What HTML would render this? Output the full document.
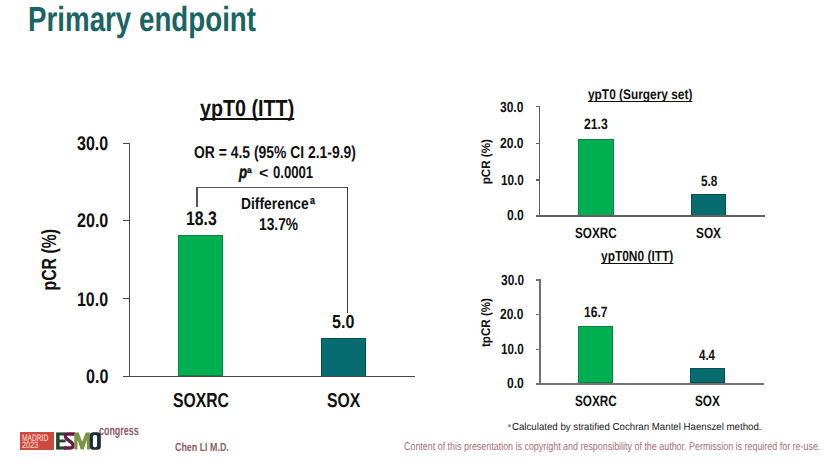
<!DOCTYPE html>
<html><head><meta charset="utf-8"><style>
html,body{margin:0;padding:0;background:#fff;}
body{width:832px;height:468px;position:relative;overflow:hidden;font-family:"Liberation Sans",sans-serif;text-rendering:geometricPrecision;}
.t{position:absolute;white-space:nowrap;line-height:1;transform-origin:0 0;}
</style></head><body>
<div class="t" style="left:27.73px;top:2.709px;font-size:34.91px;transform:scaleX(0.7944);color:#1a6464;font-weight:bold;font-style:normal;">Primary endpoint</div>
<div style="position:absolute;left:178.20px;top:234.70px;width:44.80px;height:141.80px;background:#00b050;box-shadow:inset 0 0 0 1px rgba(30,90,60,0.55)"></div>
<div style="position:absolute;left:320.80px;top:338.00px;width:45.00px;height:38.50px;background:#066c70;box-shadow:inset 0 0 0 1px rgba(10,50,50,0.45)"></div>
<div style="position:absolute;left:128.80px;top:142.70px;width:1.50px;height:234.80px;background:#474747;"></div>
<div style="position:absolute;left:123.10px;top:376.10px;width:291.50px;height:1.40px;background:#474747;"></div>
<div style="position:absolute;left:123.10px;top:142.70px;width:6.90px;height:1.40px;background:#474747;"></div>
<div style="position:absolute;left:123.10px;top:219.60px;width:6.90px;height:1.40px;background:#474747;"></div>
<div style="position:absolute;left:123.10px;top:297.90px;width:6.90px;height:1.40px;background:#474747;"></div>
<div style="position:absolute;left:196.20px;top:186.60px;width:151.80px;height:1.50px;background:#555;"></div>
<div style="position:absolute;left:196.20px;top:186.60px;width:1.60px;height:20.40px;background:#555;"></div>
<div style="position:absolute;left:346.60px;top:186.60px;width:1.40px;height:126.90px;background:#3a3a3a;"></div>
<div class="t" style="left:77.14px;top:135.103px;font-size:19.79px;transform:scaleX(0.8080);color:#111;font-weight:bold;font-style:normal;">30.0</div>
<div class="t" style="left:76.94px;top:212.103px;font-size:19.79px;transform:scaleX(0.8134);color:#111;font-weight:bold;font-style:normal;">20.0</div>
<div class="t" style="left:77.20px;top:290.603px;font-size:19.79px;transform:scaleX(0.8064);color:#111;font-weight:bold;font-style:normal;">10.0</div>
<div class="t" style="left:85.86px;top:368.103px;font-size:19.79px;transform:scaleX(0.8140);color:#111;font-weight:bold;font-style:normal;">0.0</div>
<div class="t" style="left:0;top:0;font-size:20.49px;transform-origin:0 0;transform:translate(39.900px,290.43px) rotate(-90deg) scaleX(0.7709);color:#111;font-weight:bold">pCR (%)</div>
<div class="t" style="left:200.05px;top:97.112px;font-size:23.13px;transform:scaleX(0.8529);color:#111;font-weight:bold;font-style:normal;text-decoration:underline;text-decoration-skip-ink:none;text-decoration-thickness:1.5px;text-underline-offset:2.4px">ypT0 (ITT)</div>
<div class="t" style="left:193.84px;top:143.806px;font-size:17.16px;transform:scaleX(0.8103);color:#111;font-weight:bold;font-style:normal;">OR = 4.5 (95% CI 2.1-9.9)</div>
<div class="t" style="left:239.40px;top:163.903px;font-size:17.44px;transform:scaleX(0.7613);color:#111;font-weight:bold;font-style:italic;-webkit-text-stroke:0.5px #111">p</div>
<div class="t" style="left:247.35px;top:165.725px;font-size:8.95px;transform:scaleX(0.9442);color:#111;font-weight:bold;font-style:normal;-webkit-text-stroke:0.3px #111">a</div>
<div class="t" style="left:259.32px;top:165.824px;font-size:15.19px;transform:scaleX(1.0537);color:#111;font-weight:bold;font-style:normal;"><</div>
<div class="t" style="left:272.67px;top:163.943px;font-size:17.10px;transform:scaleX(0.7685);color:#111;font-weight:bold;font-style:normal;">0.0001</div>
<div class="t" style="left:241.46px;top:195.500px;font-size:16.15px;transform:scaleX(0.8586);color:#111;font-weight:bold;font-style:normal;">Difference</div>
<div class="t" style="left:309.84px;top:195.997px;font-size:11.14px;transform:scaleX(0.7922);color:#111;font-weight:bold;font-style:normal;-webkit-text-stroke:0.3px #111">a</div>
<div class="t" style="left:258.54px;top:215.730px;font-size:17.24px;transform:scaleX(0.8000);color:#111;font-weight:bold;font-style:normal;">13.7%</div>
<div class="t" style="left:185.52px;top:210.204px;font-size:19.65px;transform:scaleX(0.8017);color:#111;font-weight:bold;font-style:normal;">18.3</div>
<div class="t" style="left:332.42px;top:314.419px;font-size:18.94px;transform:scaleX(0.8480);color:#111;font-weight:bold;font-style:normal;">5.0</div>
<div class="t" style="left:172.73px;top:391.106px;font-size:20.21px;transform:scaleX(0.7789);color:#111;font-weight:bold;font-style:normal;">SOXRC</div>
<div class="t" style="left:326.63px;top:390.804px;font-size:20.07px;transform:scaleX(0.7885);color:#111;font-weight:bold;font-style:normal;">SOX</div>
<div style="position:absolute;left:578.10px;top:138.60px;width:35.70px;height:77.20px;background:#00b050;box-shadow:inset 0 0 0 1px rgba(30,90,60,0.55)"></div>
<div style="position:absolute;left:691.00px;top:194.30px;width:35.40px;height:21.50px;background:#066c70;box-shadow:inset 0 0 0 1px rgba(10,50,50,0.45)"></div>
<div style="position:absolute;left:538.80px;top:106.00px;width:1.50px;height:110.50px;background:#606060;"></div>
<div style="position:absolute;left:535.60px;top:215.10px;width:229.40px;height:1.50px;background:#606060;"></div>
<div style="position:absolute;left:535.60px;top:106.00px;width:3.90px;height:1.40px;background:#606060;"></div>
<div style="position:absolute;left:535.60px;top:142.50px;width:3.90px;height:1.40px;background:#606060;"></div>
<div style="position:absolute;left:535.60px;top:179.30px;width:3.90px;height:1.40px;background:#606060;"></div>
<div class="t" style="left:500.43px;top:100.565px;font-size:14.70px;transform:scaleX(0.8167);color:#111;font-weight:bold;font-style:normal;">30.0</div>
<div class="t" style="left:500.28px;top:137.065px;font-size:14.70px;transform:scaleX(0.8222);color:#111;font-weight:bold;font-style:normal;">20.0</div>
<div class="t" style="left:500.86px;top:173.856px;font-size:14.70px;transform:scaleX(0.8012);color:#111;font-weight:bold;font-style:normal;">10.0</div>
<div class="t" style="left:506.91px;top:209.065px;font-size:14.70px;transform:scaleX(0.8257);color:#111;font-weight:bold;font-style:normal;">0.0</div>
<div class="t" style="left:0;top:0;font-size:12.21px;transform-origin:0 0;transform:translate(479.800px,184.36px) rotate(-90deg) scaleX(0.9553);color:#111;font-weight:bold">pCR (%)</div>
<div class="t" style="left:588.11px;top:86.862px;font-size:14.04px;transform:scaleX(0.8470);color:#111;font-weight:bold;font-style:normal;text-decoration:underline;text-decoration-skip-ink:none;text-decoration-thickness:1px;text-underline-offset:1.6px">ypT0 (Surgery set)</div>
<div class="t" style="left:583.87px;top:116.654px;font-size:14.98px;transform:scaleX(0.8152);color:#111;font-weight:bold;font-style:normal;">21.3</div>
<div class="t" style="left:700.75px;top:174.658px;font-size:14.84px;transform:scaleX(0.7954);color:#111;font-weight:bold;font-style:normal;">5.8</div>
<div class="t" style="left:574.95px;top:227.061px;font-size:14.84px;transform:scaleX(0.7893);color:#111;font-weight:bold;font-style:normal;">SOXRC</div>
<div class="t" style="left:696.45px;top:227.061px;font-size:14.84px;transform:scaleX(0.7965);color:#111;font-weight:bold;font-style:normal;">SOX</div>
<div style="position:absolute;left:578.10px;top:326.20px;width:35.30px;height:57.30px;background:#00b050;box-shadow:inset 0 0 0 1px rgba(30,90,60,0.55)"></div>
<div style="position:absolute;left:689.80px;top:368.30px;width:35.40px;height:15.20px;background:#066c70;box-shadow:inset 0 0 0 1px rgba(10,50,50,0.45)"></div>
<div style="position:absolute;left:538.90px;top:279.20px;width:2.00px;height:105.30px;background:#717171;"></div>
<div style="position:absolute;left:535.80px;top:383.00px;width:228.00px;height:1.70px;background:#717171;"></div>
<div style="position:absolute;left:535.60px;top:279.20px;width:4.40px;height:1.40px;background:#717171;"></div>
<div style="position:absolute;left:535.60px;top:313.90px;width:4.40px;height:1.40px;background:#717171;"></div>
<div style="position:absolute;left:535.60px;top:348.60px;width:4.40px;height:1.40px;background:#717171;"></div>
<div class="t" style="left:500.53px;top:273.505px;font-size:14.84px;transform:scaleX(0.8054);color:#111;font-weight:bold;font-style:normal;">30.0</div>
<div class="t" style="left:500.38px;top:308.214px;font-size:14.84px;transform:scaleX(0.8107);color:#111;font-weight:bold;font-style:normal;">20.0</div>
<div class="t" style="left:500.97px;top:342.908px;font-size:14.84px;transform:scaleX(0.7899);color:#111;font-weight:bold;font-style:normal;">10.0</div>
<div class="t" style="left:506.91px;top:376.811px;font-size:14.84px;transform:scaleX(0.8178);color:#111;font-weight:bold;font-style:normal;">0.0</div>
<div class="t" style="left:0;top:0;font-size:12.50px;transform-origin:0 0;transform:translate(479.900px,347.05px) rotate(-90deg) scaleX(0.9294);color:#111;font-weight:bold">tpCR (%)</div>
<div class="t" style="left:601.01px;top:249.613px;font-size:14.69px;transform:scaleX(0.8126);color:#111;font-weight:bold;font-style:normal;text-decoration:underline;text-decoration-skip-ink:none;text-decoration-thickness:1px;text-underline-offset:1.6px">ypT0N0 (ITT)</div>
<div class="t" style="left:583.95px;top:305.363px;font-size:14.98px;transform:scaleX(0.8053);color:#111;font-weight:bold;font-style:normal;">16.7</div>
<div class="t" style="left:699.43px;top:348.658px;font-size:14.84px;transform:scaleX(0.7771);color:#111;font-weight:bold;font-style:normal;">4.4</div>
<div class="t" style="left:574.95px;top:394.057px;font-size:14.98px;transform:scaleX(0.7819);color:#111;font-weight:bold;font-style:normal;">SOXRC</div>
<div class="t" style="left:695.45px;top:394.057px;font-size:14.98px;transform:scaleX(0.7858);color:#111;font-weight:bold;font-style:normal;">SOX</div>
<div class="t" style="left:508.09px;top:423.762px;font-size:5.11px;transform:scaleX(0.9872);color:#222;font-weight:normal;font-style:normal;">a</div>
<div class="t" style="left:512.02px;top:422.913px;font-size:10.18px;transform:scaleX(0.9511);color:#222;font-weight:normal;font-style:normal;">Calculated by stratified Cochran Mantel Haenszel method.</div>
<div class="t" style="left:404.45px;top:441.589px;font-size:11.31px;transform:scaleX(0.7893);color:#a96e78;font-weight:normal;font-style:normal;">Content of this presentation is copyright and responsibility of the author. Permission is required for re-use.</div>
<div class="t" style="left:174.74px;top:441.786px;font-size:11.73px;transform:scaleX(0.7582);color:#8d5c65;font-weight:bold;font-style:normal;">Chen LI M.D.</div>
<div class="t" style="left:98.74px;top:424.000px;font-size:13.65px;transform:scaleX(0.6529);color:#8f5564;font-weight:bold;font-style:normal;">congress</div>
<div style="position:absolute;left:19.90px;top:432.30px;width:34.00px;height:17.30px;background:#cf4a3e;"></div>
<div class="t" style="left:22.05px;top:433.903px;font-size:9.45px;transform:scaleX(0.7042);color:#fbe3df;font-weight:normal;font-style:normal;">MADRID</div>
<div class="t" style="left:22.23px;top:441.412px;font-size:9.19px;transform:scaleX(0.8023);color:#fbe3df;font-weight:normal;font-style:normal;">2023</div>
<svg style="position:absolute;left:0;top:0;overflow:visible" width="832" height="468" viewBox="0 0 832 468">
<rect x="56.1" y="432.4" width="9.6" height="17.2" fill="#1f4a2e"/>
<rect x="59.6" y="435.5" width="6.4" height="4.0" fill="#fff"/>
<rect x="59.6" y="442.4" width="6.4" height="4.0" fill="#fff"/>
<path d="M75,434 L67.5,434 Q65.2,434 65.4,436.6 Q65.8,438.6 69.5,441 Q73.2,443.4 73.2,445.6 Q73.2,448 70.5,448 L63.8,448" fill="none" stroke="#6b1b45" stroke-width="3.3"/>
<path d="M74.3,432.4 L78.6,432.4 L82.2,441.5 L85.8,432.4 L90.2,432.4 L90.2,449.6 L86.9,449.6 L86.9,440 L83.6,449.6 L80.7,449.6 L77.5,440 L77.5,449.6 L74.3,449.6 Z" fill="#7d9442"/>
<rect x="89.8" y="432.2" width="11" height="17.5" rx="3.5" fill="#1b2a3a"/>
<rect x="92.9" y="434.9" width="4.2" height="12.3" rx="1.6" fill="#fff"/>
</svg>
</body></html>
